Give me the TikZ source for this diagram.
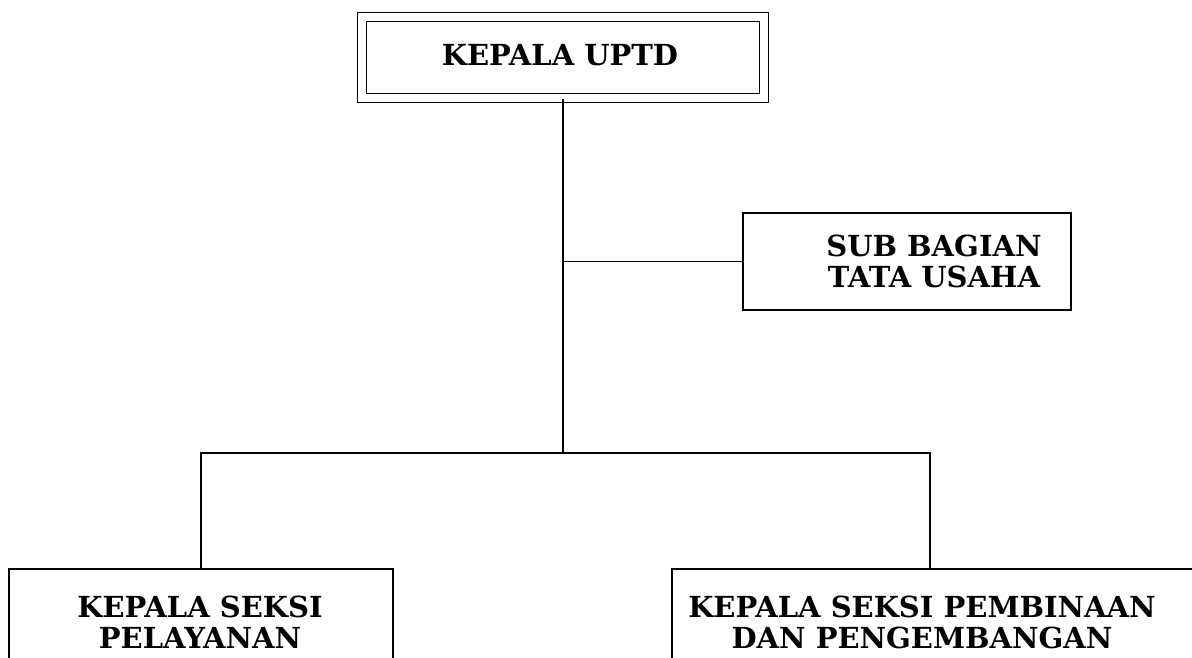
\documentclass[tikz,border=0pt]{standalone}
\usepackage{fontspec}
\setmainfont{DejaVu Serif}
\begin{document}
\begin{tikzpicture}[x=1pt,y=-1pt,line width=1.8pt,
  every node/.style={inner sep=0pt},
  unitbox/.style={draw,shape=rectangle},
  unittext/.style={align=center,font=\fontsize{29}{31}\selectfont\bfseries}]
  \clip (0,0) rectangle (1192,657);
  % kepala
  \node[unitbox,double,double distance=7.2pt,minimum width=402pt,minimum height=81pt] (kepala) at (563,57.5) {};
  \node[unittext] (kepalatext) at (560,55) {KEPALA UPTD};
  % tata usaha
  \node[unitbox,minimum width=328pt,minimum height=97pt] (tu) at (907,261.5) {};
  \node[unittext] (tutext) at (934,261) {SUB BAGIAN\\TATA USAHA};
  % seksi
  \node[unitbox,minimum width=384pt,minimum height=200pt] (seksiA) at (201,669) {};
  \node[unittext] (seksiAtext) at (200,622) {KEPALA SEKSI\\PELAYANAN};
  \node[unitbox,minimum width=560pt,minimum height=200pt] (seksiB) at (952,669) {};
  \node[unittext] (seksiBtext) at (922,622) {KEPALA SEKSI PEMBINAAN\\DAN PENGEMBANGAN};
  % garis
  \coordinate (bus) at (563,453);
  \coordinate (tujoin) at (bus |- tu.west);
  \coordinate (dropB) at (930,453);
  \draw (kepala.south) -- (bus);
  \draw (tujoin) -- (tu.west);
  \draw (seksiA.north) |- (bus) -- (dropB) -- (dropB |- seksiB.north);
\end{tikzpicture}
\end{document}
